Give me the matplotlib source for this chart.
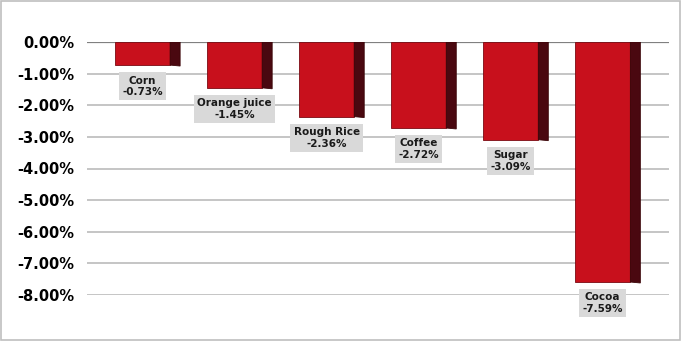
import matplotlib
matplotlib.use("Agg")
import matplotlib.pyplot as plt
from matplotlib.patches import Polygon, Rectangle

categories = ["Corn", "Orange juice", "Rough Rice", "Coffee", "Sugar", "Cocoa"]
values = [-0.73, -1.45, -2.36, -2.72, -3.09, -7.59]
yticks = [0, -1, -2, -3, -4, -5, -6, -7, -8]
ytick_labels = ["0.00%", "-1.00%", "-2.00%", "-3.00%", "-4.00%", "-5.00%", "-6.00%", "-7.00%", "-8.00%"]

fig = plt.figure(figsize=(6.81, 3.41), dpi=100)
fig.patch.set_facecolor("white")
fig.add_artist(Rectangle((0.001, 0.002), 0.997, 0.995, transform=fig.transFigure,
                         fill=False, edgecolor="#bfbfbf", linewidth=1.2))

ax = fig.add_axes([87/681, 1-295/341, (669-87)/681, (295-42)/341])
ax.set_xlim(-0.603, 5.72)
ax.set_ylim(-8, 0)

for t in yticks[1:]:
    ax.axhline(t, color="#c0c0c0", linewidth=1.3, zorder=0)
ax.axhline(0, color="#808080", linewidth=1.6, zorder=0)

w = 0.6
d = 10/92
for i, (c, v) in enumerate(zip(categories, values)):
    ax.bar(i, v, width=w, color="#c8101c", edgecolor="#7a0a12", linewidth=0.6, zorder=3)
    side = Polygon([(i + w/2, 0), (i + w/2 + d, 0), (i + w/2 + d, v - 0.03), (i + w/2, v)],
                   closed=True, facecolor="#4a0810", edgecolor="#3a0508", linewidth=0.6, zorder=3)
    ax.add_patch(side)
    ax.annotate(f"{c}\n{v:.2f}%", xy=(i, v), xytext=(0, -7.5), textcoords="offset points",
                ha="center", va="top", fontsize=7.5, fontweight="bold", color="#1a1a1a",
                linespacing=1.2, annotation_clip=False, zorder=4,
                bbox=dict(boxstyle="square,pad=0.3", facecolor="#d9d9d9", edgecolor="none"))

ax.set_yticks(yticks)
ax.set_yticklabels(ytick_labels, fontsize=10.5, fontweight="bold")
ax.tick_params(axis="y", length=0, pad=9)
ax.set_xticks([])
for s in ax.spines.values():
    s.set_visible(False)

fig.savefig("out.png", dpi=100, facecolor="white")
